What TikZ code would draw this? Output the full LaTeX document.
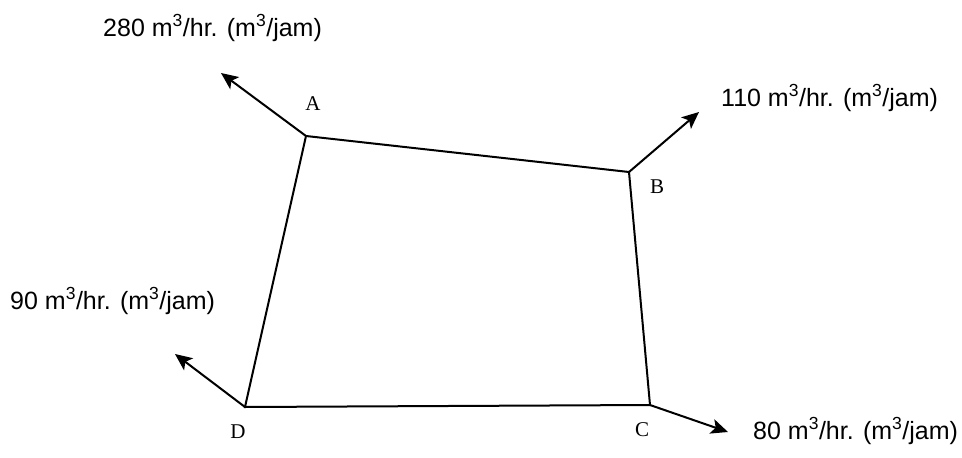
\documentclass[tikz,border=0pt]{standalone}
\usepackage{fontspec}
\setmainfont{Liberation Serif}
\newfontfamily\lblfont{Liberation Sans}
\usetikzlibrary{arrows.meta}
\begin{document}
\begin{tikzpicture}[x=1pt,y=-1pt,
  pipe/.style={line width=2pt},
  flow/.style={line width=2pt,-{Stealth[length=17pt,width=15pt,inset=4pt]}},
  flowlbl/.style={anchor=base west,inner sep=0pt,font=\lblfont\fontsize{25}{30}\selectfont},
  ptlbl/.style={anchor=base,inner sep=0pt,font=\fontsize{21}{25}\selectfont}]
\useasboundingbox (0,0) rectangle (962,458);
\coordinate (A) at (306,136);
\coordinate (B) at (629,172);
\coordinate (C) at (650,405);
\coordinate (D) at (245,407);
\coordinate (tA) at (221,73);
\coordinate (tB) at (699,112);
\coordinate (tC) at (728,432);
\coordinate (tD) at (175,354);
\draw[pipe] (A) -- (B) -- (C) -- (D) -- cycle;
\draw[flow] (A) -- (tA);
\draw[flow] (B) -- (tB);
\draw[flow] (C) -- (tC);
\draw[flow] (D) -- (tD);
\node[ptlbl] (la) at (313,110) {A};
\node[ptlbl] (lb) at (657,193) {B};
\node[ptlbl] (lc) at (642,436) {C};
\node[ptlbl] (ld) at (238,438) {D};
\node[flowlbl] (fa) at (103,36) {280 m\textsuperscript{3}/hr. (m\textsuperscript{3}/jam)};
\node[flowlbl] (fb) at (721,106) {110 m\textsuperscript{3}/hr. (m\textsuperscript{3}/jam)};
\node[flowlbl] (fd) at (10,309) {90 m\textsuperscript{3}/hr. (m\textsuperscript{3}/jam)};
\node[flowlbl] (fc) at (753,439) {80 m\textsuperscript{3}/hr. (m\textsuperscript{3}/jam)};
\end{tikzpicture}
\end{document}
